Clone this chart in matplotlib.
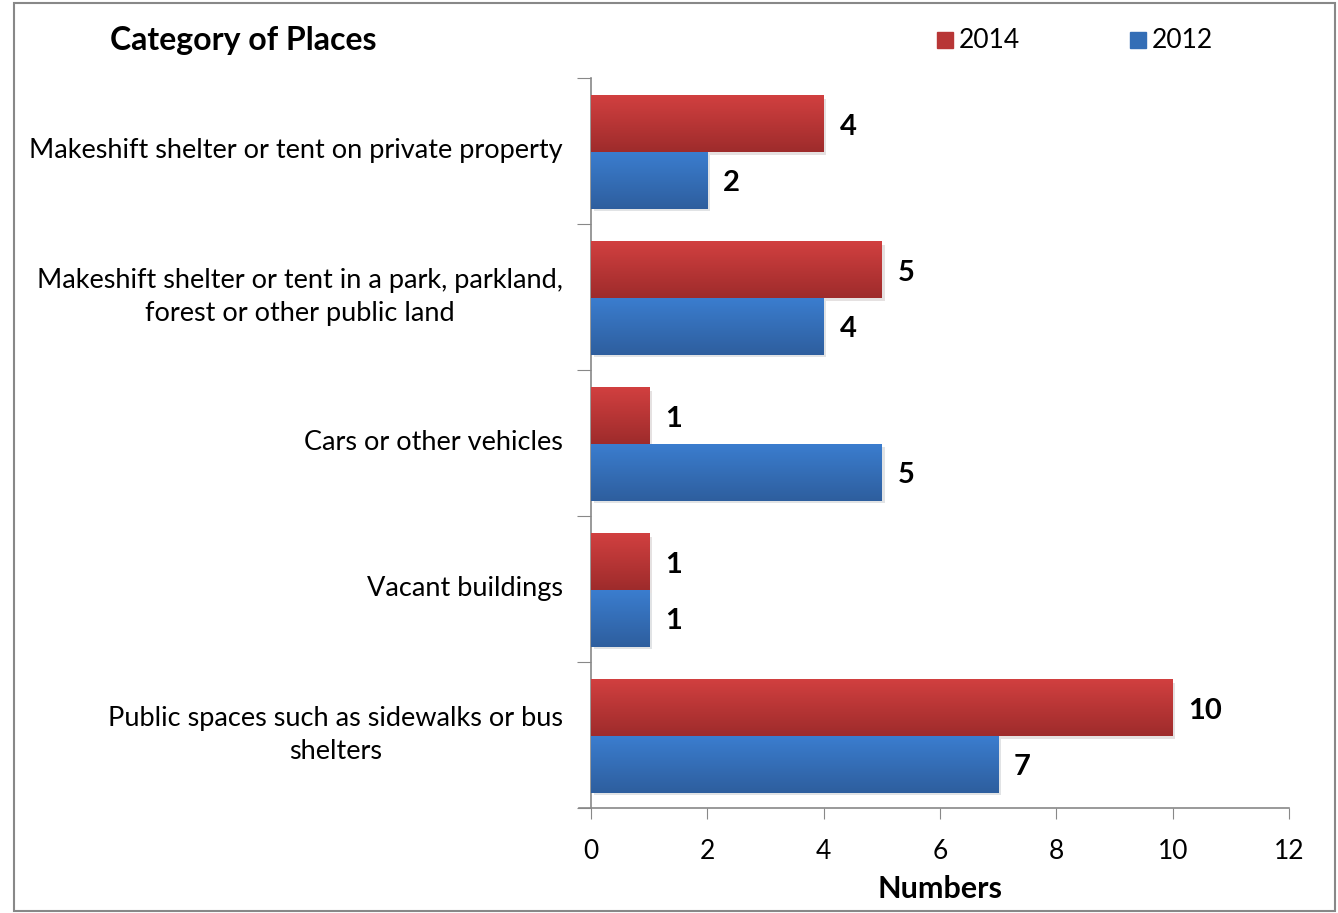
import numpy as np
import matplotlib.pyplot as plt
from matplotlib.patches import Rectangle
import matplotlib.patheffects as pe

categories = [
    'Makeshift shelter or tent on private property',
    'Makeshift shelter or tent in a park, parkland,\nforest or other public land',
    'Cars or other vehicles',
    'Vacant buildings',
    'Public spaces such as sidewalks or bus\nshelters',
]
vals_2014 = [4, 5, 1, 1, 10]
vals_2012 = [2, 4, 5, 1, 7]
xticks = [0, 2, 4, 6, 8, 10, 12]

plt.rcParams['font.family'] = ['Lato', 'DejaVu Sans']

red_top, red_bot = np.array([0.82, 0.25, 0.25]), np.array([0.62, 0.17, 0.17])
blue_top, blue_bot = np.array([0.23, 0.49, 0.81]), np.array([0.18, 0.37, 0.62])

fig = plt.figure(figsize=(13.38, 9.13), dpi=100)
ax = fig.add_axes([0.4417, 0.115, 0.5217, 0.7996])

h = 0.385
y = np.arange(len(categories))
shadow = [pe.SimplePatchShadow(offset=(2, -2), alpha=0.12), pe.Normal()]


def gradient_bars(bars, top, bot):
    grad = np.linspace(0, 1, 64)[:, None, None]
    img = top * (1 - grad) + bot * grad
    for b in bars:
        b.set_path_effects(shadow)
        x0, y0 = b.get_x(), b.get_y()
        w, hh = b.get_width(), b.get_height()
        # inverted y axis: image row 0 at top (smaller y)
        ax.imshow(img, extent=[x0, x0 + w, y0 + hh, y0], aspect='auto',
                  interpolation='bilinear', zorder=3)


b14 = ax.barh(y - h / 2 + 0.01, vals_2014, height=h, color=red_bot, zorder=2)
b12 = ax.barh(y + h / 2 + 0.01, vals_2012, height=h, color=blue_bot, zorder=2)
gradient_bars(b14, red_top, red_bot)
gradient_bars(b12, blue_top, blue_bot)

for yi, v in zip(y, vals_2014):
    ax.text(v + 0.27, yi - h / 2 + 0.03, str(v), va='center', ha='left',
            fontsize=21, fontweight='bold')
for yi, v in zip(y, vals_2012):
    ax.text(v + 0.27, yi + h / 2 + 0.03, str(v), va='center', ha='left',
            fontsize=21, fontweight='bold')

ax.set_xlim(0, 12)
ax.set_ylim(len(categories) - 0.5, -0.5)
ax.set_xticks(xticks)
ax.set_xticklabels([str(t) for t in xticks], fontsize=19)
ax.set_yticks(np.arange(-0.5, len(categories), 1.0))
ax.set_yticklabels([])
ax.tick_params(axis='y', length=10, color='#888888', direction='out')
ax.tick_params(axis='x', length=8, color='#888888', direction='out', pad=14)
for yi, c in zip(y, categories):
    ax.text(-0.48, yi, c, ha='right', va='center', fontsize=19.5,
            linespacing=1.4, multialignment='center',
            transform=ax.transData)

for s in ['top', 'right']:
    ax.spines[s].set_visible(False)
for s in ['left', 'bottom']:
    ax.spines[s].set_color('#888888')
    ax.spines[s].set_linewidth(1.2)
ax.spines['bottom'].set_bounds(-0.2, 12)
ax.set_xlabel('Numbers', fontsize=22, fontweight='bold', labelpad=8)

fig.text(0.082, 0.956, 'Category of Places', fontsize=23, fontweight='bold',
         va='center', ha='left')

# legend
for x0, lab, col in [(937, '2014', red_top * 0.5 + red_bot * 0.5),
                     (1130, '2012', blue_top * 0.5 + blue_bot * 0.5)]:
    fig.add_artist(Rectangle((x0 / 1338, 1 - 48 / 913), 16 / 1338, 16 / 913,
                             transform=fig.transFigure, color=col))
    fig.text((x0 + 22) / 1338, 1 - 40 / 913, lab, fontsize=19,
             va='center', ha='left')

fig.add_artist(Rectangle((14 / 1338, 0.002), 1321 / 1338, 1 - 3 / 913 - 0.002,
                         transform=fig.transFigure, fill=False,
                         edgecolor='#888888', linewidth=1.5))

fig.savefig('out.png', dpi=100)
